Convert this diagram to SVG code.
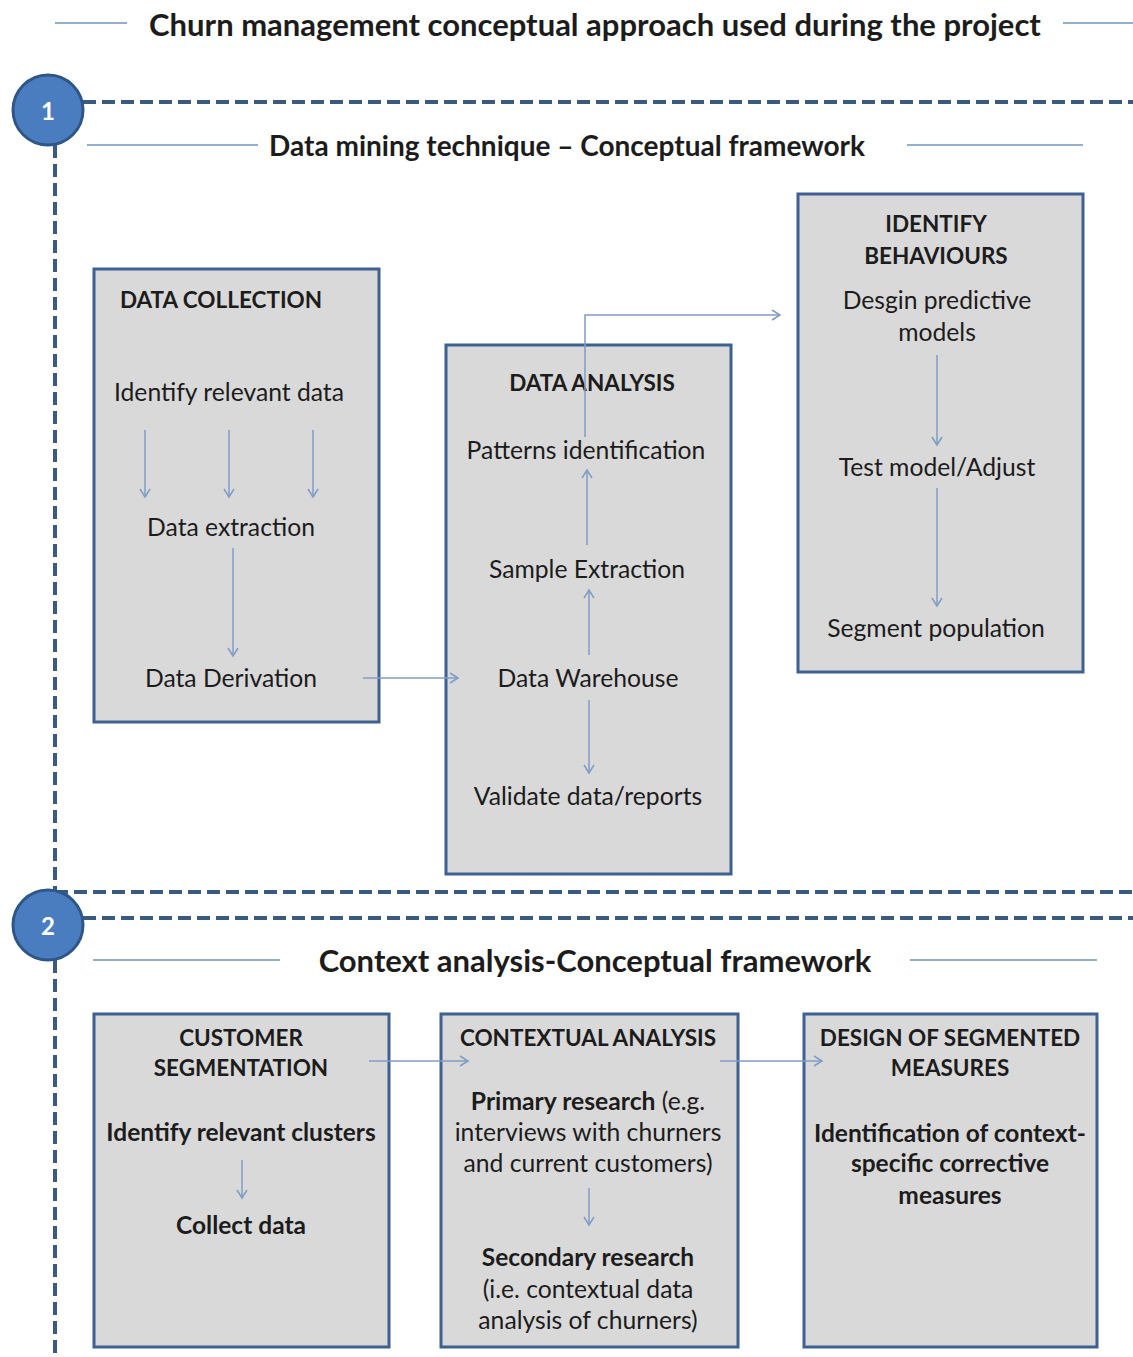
<svg xmlns="http://www.w3.org/2000/svg" width="1133" height="1357" viewBox="0 0 1133 1357">
<defs>
<marker id="ah" markerWidth="12" markerHeight="12" refX="10" refY="6" orient="auto" markerUnits="userSpaceOnUse">
<path d="M2,1 L10,6 L2,11" fill="none" stroke="#7f9cc4" stroke-width="1.5"/>
</marker>
<style>
text{font-family:Lato,"Open Sans","Noto Sans",sans-serif;fill:#1c1c1c;text-anchor:middle;dominant-baseline:central}
.b{font-weight:bold}
.t{font-size:31px;font-weight:bold}
.st{font-size:28px;font-weight:bold}
.h{font-size:22.5px;font-weight:bold}
.hb{font-size:24.5px;font-weight:bold}
.n{font-size:24.7px}
.box{fill:#d9d9d9;stroke:#3d6191;stroke-width:3}
.dash{stroke:#3a5a82;stroke-width:4;stroke-dasharray:13,6;fill:none}
.rule{stroke:#6f93c2;stroke-width:1.5}
.arr{stroke:#7f9cc4;stroke-width:1.5;fill:none;marker-end:url(#ah)}
.circ{fill:#4a7dbf;stroke:#2e5689;stroke-width:3}
.num{font-size:24px;font-weight:bold;fill:#fff}
</style>
</defs>
<rect width="1133" height="1357" fill="#ffffff"/>

<g id="frame">
<line class="rule" x1="55" y1="23" x2="127" y2="23"/>
<line class="rule" x1="1063" y1="23" x2="1133" y2="23"/>
<text class="t" x="595" y="24">Churn management conceptual approach used during the project</text>
<line class="dash" x1="83" y1="102" x2="1133" y2="102"/>
<line class="dash" x1="55" y1="145" x2="55" y2="892"/>
<line class="dash" x1="55" y1="892" x2="1133" y2="892"/>
<line class="dash" x1="83" y1="918" x2="1133" y2="918"/>
<line class="dash" x1="55" y1="960" x2="55" y2="1357"/>
<line class="rule" x1="87" y1="145" x2="258" y2="145"/>
<line class="rule" x1="907" y1="145" x2="1083" y2="145"/>
<text class="st" x="567" y="145">Data mining technique – Conceptual framework</text>
<line class="rule" x1="93" y1="960" x2="280" y2="960"/>
<line class="rule" x1="910" y1="960" x2="1097" y2="960"/>
<text class="st" x="595" y="960" style="font-size:31px">Context analysis-Conceptual framework</text>
</g>

<g id="step1">
<circle class="circ" cx="48" cy="110" r="35"/>
<text class="num" x="48" y="110">1</text>
</g>
<g id="step2">
<circle class="circ" cx="48" cy="925" r="35"/>
<text class="num" x="48" y="925">2</text>
</g>

<g id="data-collection">
<rect class="box" x="94" y="269" width="285" height="453"/>
<text class="h" x="221" y="299">DATA COLLECTION</text>
<text class="n" x="229" y="391">Identify relevant data</text>
<text class="n" x="231" y="526">Data extraction</text>
<text class="n" x="231" y="677">Data Derivation</text>
</g>

<g id="data-analysis">
<rect class="box" x="446" y="345" width="285" height="529"/>
<text class="h" x="592" y="382">DATA ANALYSIS</text>
<text class="n" x="586" y="449">Patterns identification</text>
<text class="n" x="587" y="568">Sample Extraction</text>
<text class="n" x="588" y="677">Data Warehouse</text>
<text class="n" x="588" y="795">Validate data/reports</text>
</g>

<g id="identify-behaviours">
<rect class="box" x="798" y="194" width="285" height="478"/>
<text class="h" x="936" y="223">IDENTIFY</text>
<text class="h" x="936" y="255">BEHAVIOURS</text>
<text class="n" x="937" y="299">Desgin predictive</text>
<text class="n" x="937" y="331">models</text>
<text class="n" x="937" y="466">Test model/Adjust</text>
<text class="n" x="936" y="627">Segment population</text>
</g>

<g id="customer-segmentation">
<rect class="box" x="94" y="1014" width="295" height="333"/>
<text class="h" x="241" y="1037">CUSTOMER</text>
<text class="h" x="241" y="1067">SEGMENTATION</text>
<text class="hb" x="241" y="1131">Identify relevant clusters</text>
<text class="hb" x="241" y="1224">Collect data</text>
</g>

<g id="contextual-analysis">
<rect class="box" x="441" y="1014" width="297" height="333"/>
<text class="h" x="588" y="1037">CONTEXTUAL ANALYSIS</text>
<text class="n" x="588" y="1100"><tspan class="b">Primary research</tspan> (e.g.</text>
<text class="n" x="588" y="1131">interviews with churners</text>
<text class="n" x="588" y="1162">and current customers)</text>
<text class="hb" x="588" y="1256">Secondary research</text>
<text class="n" x="588" y="1288">(i.e. contextual data</text>
<text class="n" x="588" y="1319">analysis of churners)</text>
</g>

<g id="design-measures">
<rect class="box" x="804" y="1014" width="293" height="333"/>
<text class="h" x="950" y="1037">DESIGN OF SEGMENTED</text>
<text class="h" x="950" y="1067">MEASURES</text>
<text class="hb" x="950" y="1132">Identification of context-</text>
<text class="hb" x="950" y="1162">specific corrective</text>
<text class="hb" x="950" y="1194">measures</text>
</g>

<g id="connectors">
<line class="arr" x1="145" y1="430" x2="145" y2="497"/>
<line class="arr" x1="229" y1="430" x2="229" y2="497"/>
<line class="arr" x1="313" y1="430" x2="313" y2="497"/>
<line class="arr" x1="233" y1="548" x2="233" y2="656"/>
<line class="arr" x1="363" y1="678" x2="458" y2="678"/>
<line class="arr" x1="587" y1="545" x2="587" y2="470"/>
<line class="arr" x1="589" y1="655" x2="589" y2="590"/>
<line class="arr" x1="589" y1="700" x2="589" y2="773"/>
<polyline class="arr" points="585,437 585,315 780,315"/>
<line class="arr" x1="937" y1="355" x2="937" y2="445"/>
<line class="arr" x1="937" y1="488" x2="937" y2="606"/>
<line class="arr" x1="242" y1="1160" x2="242" y2="1198"/>
<line class="arr" x1="369" y1="1061" x2="468" y2="1061"/>
<line class="arr" x1="589" y1="1188" x2="589" y2="1225"/>
<line class="arr" x1="720" y1="1061" x2="822" y2="1061"/>
</g>
</svg>
